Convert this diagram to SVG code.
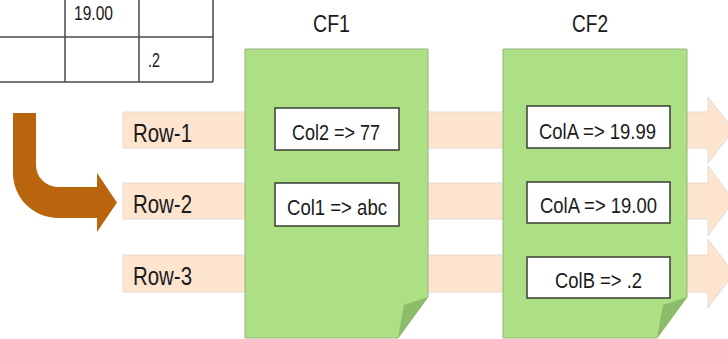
<svg xmlns="http://www.w3.org/2000/svg" width="728" height="339" viewBox="0 0 728 339">
  <style>
    .t { font-family: "Liberation Sans", Arial, sans-serif; fill: #1a1a1a; }
    .grid { stroke: #4a4a4a; stroke-width: 1.5; fill: none; }
    .bar { fill: #FDE4CF; stroke: #E6DAD0; stroke-width: 1; }
    .doc { fill: #ADDF84; stroke: #98B483; stroke-width: 1; }
    .fold { fill: #8DBC68; }
    .box { fill: #FFFFFF; stroke: #3a3f36; stroke-width: 1.5; }
  </style>
  <rect width="728" height="339" fill="#FFFFFF"/>

  <g id="table">
    <line class="grid" x1="0" y1="37" x2="213" y2="37"/>
    <line class="grid" x1="0" y1="82" x2="213" y2="82"/>
    <line class="grid" x1="65" y1="0" x2="65" y2="82"/>
    <line class="grid" x1="139" y1="0" x2="139" y2="82"/>
    <line class="grid" x1="213" y1="0" x2="213" y2="82"/>
    <text class="t" x="74" y="20" font-size="20.5" textLength="39" lengthAdjust="spacingAndGlyphs">19.00</text>
    <text class="t" x="148" y="67" font-size="20.5" textLength="12" lengthAdjust="spacingAndGlyphs">.2</text>
  </g>

  <g id="rows">
    <g id="row1">
      <path class="bar" d="M123,112 H708 V97 L734,130 L708,163 V148 H123 Z"/>
      <text class="t" x="133" y="142" font-size="26" textLength="59" lengthAdjust="spacingAndGlyphs">Row-1</text>
    </g>
    <g id="row2">
      <path class="bar" d="M123,183 H708 V166 L734,201 L708,236 V219 H123 Z"/>
      <text class="t" x="133" y="213" font-size="26" textLength="59" lengthAdjust="spacingAndGlyphs">Row-2</text>
    </g>
    <g id="row3">
      <path class="bar" d="M123,255 H708 V239 L734,273.5 L708,308 V292 H123 Z"/>
      <text class="t" x="133" y="285" font-size="26" textLength="59" lengthAdjust="spacingAndGlyphs">Row-3</text>
    </g>
  </g>

  <g id="connectors">
    <path fill="#B8650E" d="M13,113 H36 V165 A22,22 0 0 0 58,187 H97 V173 L117,202.5 L97,232 V218 H58 A45,45 0 0 1 13,173 Z"/>
  </g>

  <g id="cf1">
    <text class="t" x="331.5" y="32" font-size="23.5" text-anchor="middle" textLength="37" lengthAdjust="spacingAndGlyphs">CF1</text>
    <path class="doc" d="M245,49 H428 V297 L398,338 H245 Z"/>
    <path class="fold" d="M428,297 L404,305 L398,338 Z"/>
    <g id="cf1-col2">
      <rect class="box" x="275" y="108" width="124" height="42"/>
      <text class="t" x="336" y="140" font-size="22" text-anchor="middle" textLength="88" lengthAdjust="spacingAndGlyphs">Col2 =&gt; 77</text>
    </g>
    <g id="cf1-col1">
      <rect class="box" x="275" y="183" width="124" height="43"/>
      <text class="t" x="337" y="215" font-size="22" text-anchor="middle" textLength="100" lengthAdjust="spacingAndGlyphs">Col1 =&gt; abc</text>
    </g>
  </g>

  <g id="cf2">
    <text class="t" x="590" y="32" font-size="23.5" text-anchor="middle" textLength="36" lengthAdjust="spacingAndGlyphs">CF2</text>
    <path class="doc" d="M503,49 H687 V297 L657,338 H503 Z"/>
    <path class="fold" d="M687,297 L663,305 L657,338 Z"/>
    <g id="cf2-cola1">
      <rect class="box" x="527" y="106" width="143" height="42"/>
      <text class="t" x="597.5" y="139" font-size="22" text-anchor="middle" textLength="117" lengthAdjust="spacingAndGlyphs">ColA =&gt; 19.99</text>
    </g>
    <g id="cf2-cola2">
      <rect class="box" x="527" y="182" width="143" height="41"/>
      <text class="t" x="598.5" y="213" font-size="22" text-anchor="middle" textLength="117" lengthAdjust="spacingAndGlyphs">ColA =&gt; 19.00</text>
    </g>
    <g id="cf2-colb">
      <rect class="box" x="527" y="257" width="143" height="41"/>
      <text class="t" x="598.5" y="288" font-size="22" text-anchor="middle" textLength="87" lengthAdjust="spacingAndGlyphs">ColB =&gt; .2</text>
    </g>
  </g>
</svg>
